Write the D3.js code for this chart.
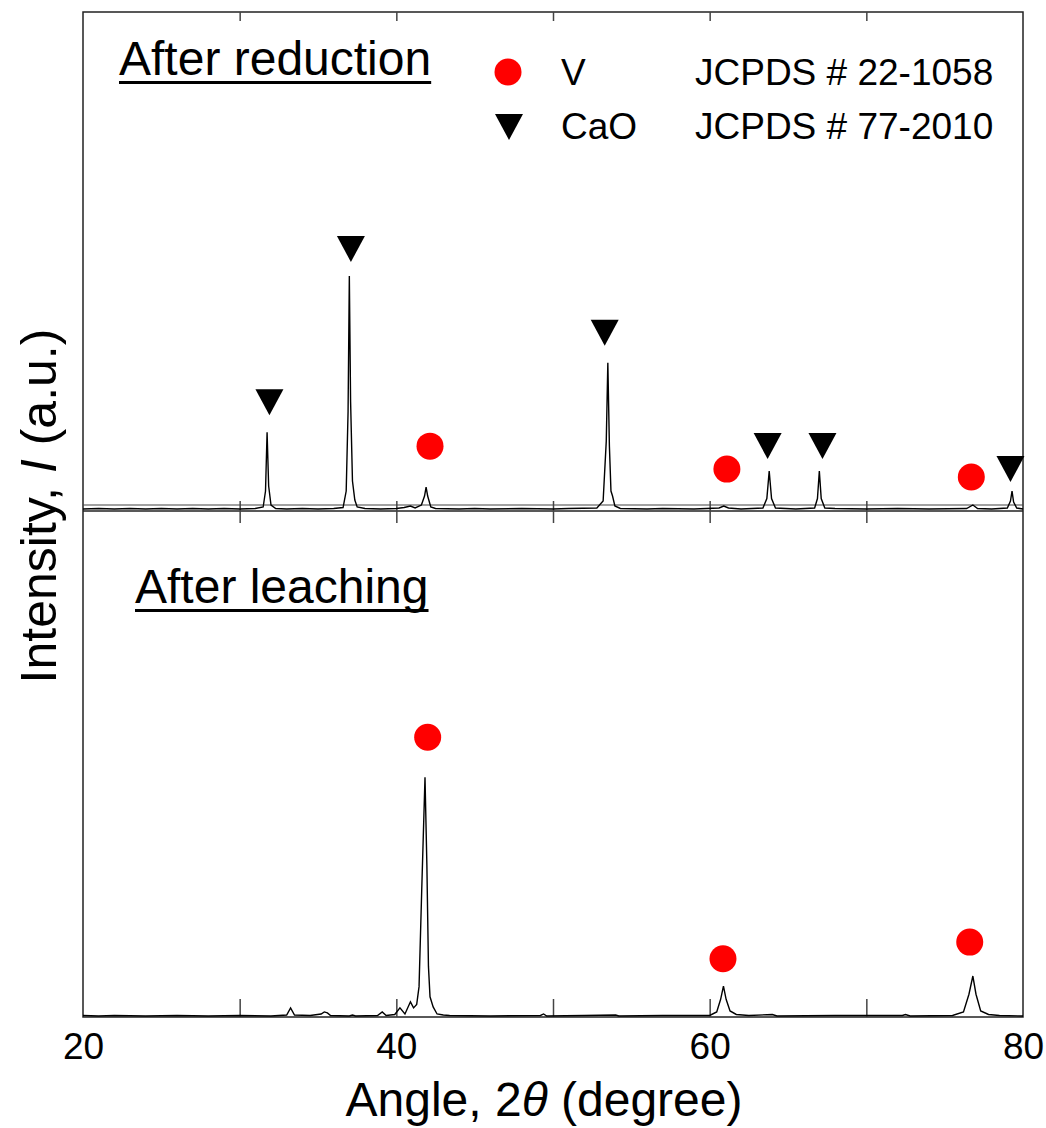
<!DOCTYPE html>
<html>
<head>
<meta charset="utf-8">
<script src="https://cdn.jsdelivr.net/npm/d3@7"></script>
<style>
  body { margin: 0; background: #fff; }
  text { font-family: "Liberation Sans", Arial, sans-serif; fill: #000; }
</style>
</head>
<body>
<svg width="1046" height="1128"></svg>
<script>
// angle (2theta), intensity (a.u.)
var reducedTrace = [
  [20,4],[21,5],[22,4],[23,5],[24,4],[25,5],[26,4],[27,5],[28,4],[29,5],[30,4],[31.0,5],[31.5,8],
  [31.65,40],[31.75,158],[31.85,50],[32.0,12],[32.3,5],[33,4],[34,5],[35,4],[36,5],[36.6,7],
  [36.8,40],[36.92,200],[37.0,471],[37.08,220],[37.2,60],[37.35,22],[37.5,8],[38,5],[39,4],
  [40,5],[40.5,7],[40.9,10],[41.2,6],[41.6,12],[41.8,30],[41.9,48],[42.0,30],[42.2,8],[42.5,5],
  [44,4],[45,5],[46,4],[48,5],[50,4],[51,5],[52.8,6],[53.2,20],[53.4,140],[53.5,297],[53.6,130],
  [53.7,40],[53.8,30],[53.95,10],[54.3,5],[56,4],[57,5],[59,4],[60.6,6],[60.9,10],[61.2,6],[62,4],
  [63.4,6],[63.65,25],[63.8,80],[63.95,25],[64.2,6],[65.5,4],[66.7,6],[66.88,25],[67.0,80],
  [67.12,25],[67.35,6],[68,5],[70,4],[72,5],[74,4],[76.4,5],[76.8,12],[77.1,5],[78,4],[79.0,6],
  [79.2,20],[79.3,40],[79.4,18],[79.6,6],[80,4]
];
var leachedTrace = [
  [20,3],[21,2],[22,3],[24,2],[26,3],[28,2],[30,3],[32,2],[33.0,4],[33.25,18],[33.5,4],[34.5,3],
  [35.2,6],[35.4,10],[35.6,8],[35.8,3],[37,2],[37.2,4],[37.4,2],[38.8,3],[39.1,10],[39.35,3],
  [39.9,5],[40.23,18],[40.55,6],[40.9,30],[41.1,18],[41.3,25],[41.45,60],[41.62,250],[41.83,474],
  [41.95,300],[42.05,100],[42.15,40],[42.35,20],[42.6,6],[43.0,4],[43.4,3],[46,2],[49.2,3],
  [49.4,6],[49.6,2],[52,3],[54.0,4],[54.2,2],[57,3],[60.0,3],[60.45,10],[60.7,35],[60.88,61],
  [61.05,35],[61.3,12],[61.7,5],[62.5,3],[64,5],[64.3,2],[68,3],[72.3,3],[72.5,5],[72.8,2],
  [75.5,3],[76.2,10],[76.55,45],[76.8,81],[77.0,45],[77.3,12],[77.8,5],[78.5,3],[80,2]
];
// phase markers (angle, intensity)
var reducedCaO = [[31.9,192],[37.1,499],[53.3,331],[63.7,104],[67.2,104],[79.2,58]];
var reducedV = [[42.15,130],[61.1,84],[76.7,68]];
var leachedV = [[42.0,553],[60.85,115],[76.6,148]];

var xTicksMinor = [30, 40, 50, 60, 70];
var xTickLabels = [20, 40, 60, 80];
var legendPhases = ["V", "CaO"];
var legendCards = ["JCPDS # 22-1058", "JCPDS # 77-2010"];

var svg = d3.select("svg");
var plotL = 83, plotR = 1023, plotT = 12, plotM = 511, plotB = 1017;

var x = d3.scaleLinear().domain([20, 80]).range([plotL, plotR]);
var yUp = d3.scaleLinear().domain([0, 1000]).range([plotM, plotT]);
var yLo = d3.scaleLinear().domain([0, 1000]).range([plotB, plotM]);

// frame
svg.append("rect")
  .attr("x", plotL).attr("y", plotT)
  .attr("width", plotR - plotL).attr("height", plotB - plotT)
  .attr("fill", "none").attr("stroke", "#222").attr("stroke-width", 1.5);

// panel divider + baseline line of upper pattern
svg.append("line")
  .attr("x1", plotL).attr("x2", plotR).attr("y1", plotM).attr("y2", plotM)
  .attr("stroke", "#222").attr("stroke-width", 1.5);
svg.append("line")
  .attr("x1", plotL).attr("x2", plotR).attr("y1", yUp(12)).attr("y2", yUp(12))
  .attr("stroke", "#444").attr("stroke-width", 1.2);

// ticks
function tickStyle(g) {
  g.select(".domain").remove();
  g.selectAll("line").attr("stroke", "#444").attr("stroke-width", 1.5);
}
svg.append("g")
  .attr("transform", "translate(0," + plotB + ")")
  .call(d3.axisTop(x).tickValues(xTicksMinor).tickSize(18).tickFormat(""))
  .call(tickStyle);
svg.append("g")
  .attr("transform", "translate(0," + plotT + ")")
  .call(d3.axisBottom(x).tickValues(xTicksMinor).tickSize(9).tickFormat(""))
  .call(tickStyle);
svg.append("g")
  .attr("transform", "translate(0,501)")
  .call(d3.axisBottom(x).tickValues(xTicksMinor).tickSize(22).tickFormat(""))
  .call(tickStyle);

// tick labels
svg.append("g")
  .attr("transform", "translate(0," + plotB + ")")
  .call(d3.axisBottom(x).tickValues(xTickLabels).tickSize(0).tickPadding(16).tickFormat(d3.format("d")))
  .call(function (g) {
    g.select(".domain").remove();
    g.selectAll("text").style("font-family", "Liberation Sans, Arial, sans-serif")
      .style("font-size", "37px").attr("fill", "#000");
  });

// traces
var line = function (y) {
  return d3.line().x(function (d) { return x(d[0]); }).y(function (d) { return y(d[1]); });
};
svg.append("path").attr("d", line(yUp)(reducedTrace))
  .attr("fill", "none").attr("stroke", "#000").attr("stroke-width", 1.4);
svg.append("path").attr("d", line(yLo)(leachedTrace))
  .attr("fill", "none").attr("stroke", "#000").attr("stroke-width", 1.4);

// markers
svg.append("g").selectAll("path").data(reducedCaO).enter().append("path")
  .attr("d", "M-14,-26L14,-26L0,0Z")
  .attr("transform", function (d) { return "translate(" + x(d[0]) + "," + yUp(d[1]) + ")"; })
  .attr("fill", "#000");
svg.append("g").selectAll("circle").data(reducedV).enter().append("circle")
  .attr("cx", function (d) { return x(d[0]); }).attr("cy", function (d) { return yUp(d[1]); })
  .attr("r", 13.5).attr("fill", "#ff0000");
svg.append("g").selectAll("circle").data(leachedV).enter().append("circle")
  .attr("cx", function (d) { return x(d[0]); }).attr("cy", function (d) { return yLo(d[1]); })
  .attr("r", 13.5).attr("fill", "#ff0000");

// panel titles
function title(txt, tx, ty) {
  var t = svg.append("text").attr("x", tx).attr("y", ty).style("font-size", "48px").text(txt);
  var w = t.node().getComputedTextLength();
  svg.append("rect").attr("x", tx).attr("y", ty + 6).attr("width", w).attr("height", 3).attr("fill", "#000");
}
title("After reduction", 119, 75);
title("After leaching", 135, 603);

// legend
svg.append("circle").attr("cx", 508).attr("cy", 72).attr("r", 13.5).attr("fill", "#ff0000");
svg.append("path").attr("d", "M-14,-13L14,-13L0,13Z").attr("transform", "translate(509,127)").attr("fill", "#000");
legendPhases.forEach(function (p, i) {
  svg.append("text").attr("x", 561).attr("y", 85 + i * 54).style("font-size", "37px").text(p);
});
legendCards.forEach(function (c, i) {
  svg.append("text").attr("x", 695).attr("y", 85 + i * 54).style("font-size", "37px").text(c);
});

// axis titles
var xt = svg.append("text").attr("x", 544).attr("y", 1116).attr("text-anchor", "middle").style("font-size", "48px");
xt.append("tspan").text("Angle, 2");
xt.append("tspan").style("font-style", "italic").text("\u03B8");
xt.append("tspan").text(" (degree)");

var yt = svg.append("text").attr("transform", "translate(56,506) rotate(-90)").attr("text-anchor", "middle").style("font-size", "50px");
yt.append("tspan").text("Intensity, ");
yt.append("tspan").style("font-style", "italic").text("I");
yt.append("tspan").text(" (a.u.)");
</script>
</body>
</html>
